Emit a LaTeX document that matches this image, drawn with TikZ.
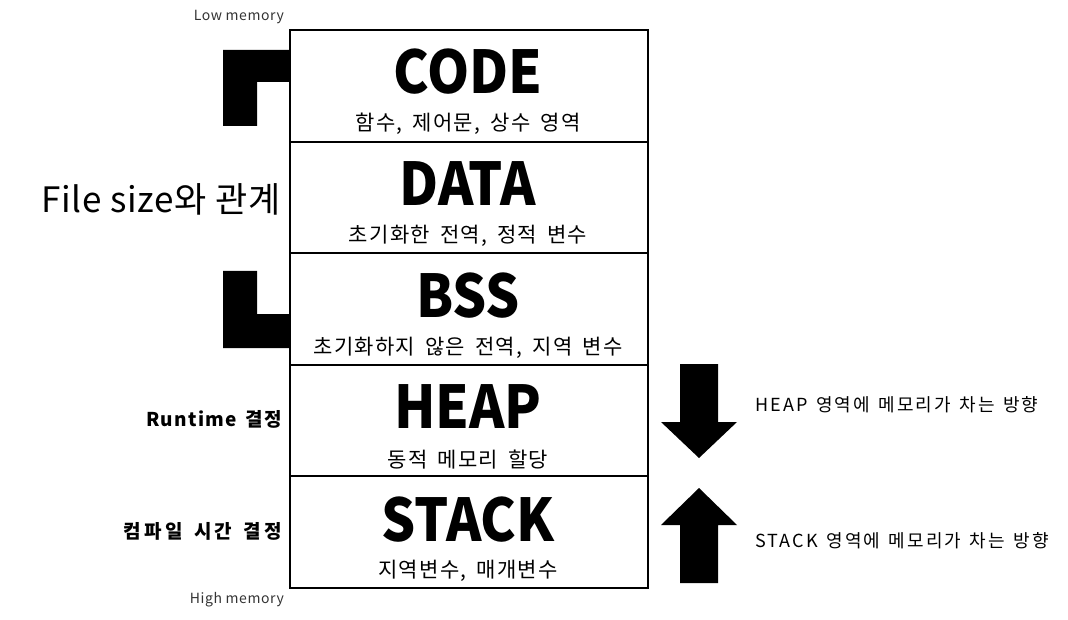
\documentclass[tikz,border=0pt]{standalone}
\usepackage{fontspec}
\setmainfont{Noto Sans CJK KR}
\newfontfamily\titlefont[FakeStretch=0.91]{Noto Sans CJK KR}
\newfontfamily\subfont[LetterSpace=6,WordSpace=1.7]{Noto Sans CJK KR}
\newfontfamily\sidefont[LetterSpace=7,WordSpace=1.5]{Noto Sans CJK KR}
\newfontfamily\sidekfont[LetterSpace=17,WordSpace=1.5]{Noto Sans CJK KR}
\newfontfamily\dirfont[LetterSpace=12,WordSpace=1.35]{Noto Sans CJK KR}
\newfontfamily\memfont[LetterSpace=4]{Noto Sans CJK KR}
\newfontfamily\bigfont[LetterSpace=2]{Noto Sans CJK KR}
\begin{document}
\begin{tikzpicture}[x=1pt,y=-1pt,
  region/.style={draw=black,line width=2pt,minimum width=358pt,minimum height=111.6pt,inner sep=0pt,anchor=north west},
  title/.style={font=\titlefont\fontsize{59}{61}\selectfont\bfseries,inner sep=0pt},
  sub/.style={font=\subfont\fontsize{21}{23}\selectfont,inner sep=0pt},
  memlabel/.style={font=\memfont\fontsize{14}{16}\selectfont,text=black!80,inner sep=0pt,anchor=east},
  sidebold/.style={font=\fontsize{19}{21}\selectfont\bfseries,inner sep=0pt,anchor=east},
  dirlabel/.style={font=\dirfont\fontsize{18}{20}\selectfont,inner sep=0pt,anchor=west},
  solid shape/.style={fill=black,draw=none}]
\useasboundingbox (0,0) rectangle (1068,620);
% regions
\node[region] (code)  at (289,29) {};
\node[region] (data)  at (289,140.6) {};
\node[region] (bss)   at (289,252.2) {};
\node[region] (heap)  at (289,363.8) {};
\node[region] (stack) at (289,475.4) {};
% titles
\node[title] (tcode)  at (468,72)  {CODE};
\node[sub]   (scode)  at (468,124) {함수, 제어문, 상수 영역};
\node[title] (tdata)  at (468,184) {DATA};
\node[sub]   (sdata)  at (468,236) {초기화한 전역, 정적 변수};
\node[title] (tbss)   at (468,296) {BSS};
\node[sub]   (sbss)   at (468,348) {초기화하지 않은 전역, 지역 변수};
\node[title] (theap)  at (468,407) {HEAP};
\node[sub]   (sheap)  at (468,460) {동적 메모리 할당};
\node[title] (tstack) at (468,520) {STACK};
\node[sub]   (sstack) at (468,571) {지역변수, 매개변수};
% memory labels
\node[memlabel] (low)  at (284,17)  {Low memory};
\node[memlabel] (high) at (284,600) {High memory};
% brackets
\fill[solid shape] (223,50) -- (289,50) -- (289,82) -- (257,82) -- (257,126) -- (223,126) -- cycle;
\fill[solid shape] (223,271) -- (257,271) -- (257,314) -- (289,314) -- (289,348) -- (223,348) -- cycle;
\node[font=\bigfont\fontsize{35}{37}\selectfont,inner sep=0pt,anchor=east] (fsize) at (281,199) {File size와 관계};
% side labels
\node[sidebold] (runtime) at (282,419) {\sidefont\bfseries Runtime 결정};
\node[sidebold] (compile) at (282,531) {\sidekfont\bfseries 컴파일 시간 결정};
% direction arrows
\fill[solid shape] (680,364) -- (718,364) -- (718,422) -- (737,422) -- (699,458) -- (661,422) -- (680,422) -- cycle;
\fill[solid shape] (680,583) -- (718,583) -- (718,525) -- (737,525) -- (699,488) -- (661,525) -- (680,525) -- cycle;
\node[dirlabel] (hdir) at (755,405) {HEAP 영역에 메모리가 차는 방향};
\node[dirlabel] (sdir) at (755,541) {STACK 영역에 메모리가 차는 방향};
\end{tikzpicture}
\end{document}
